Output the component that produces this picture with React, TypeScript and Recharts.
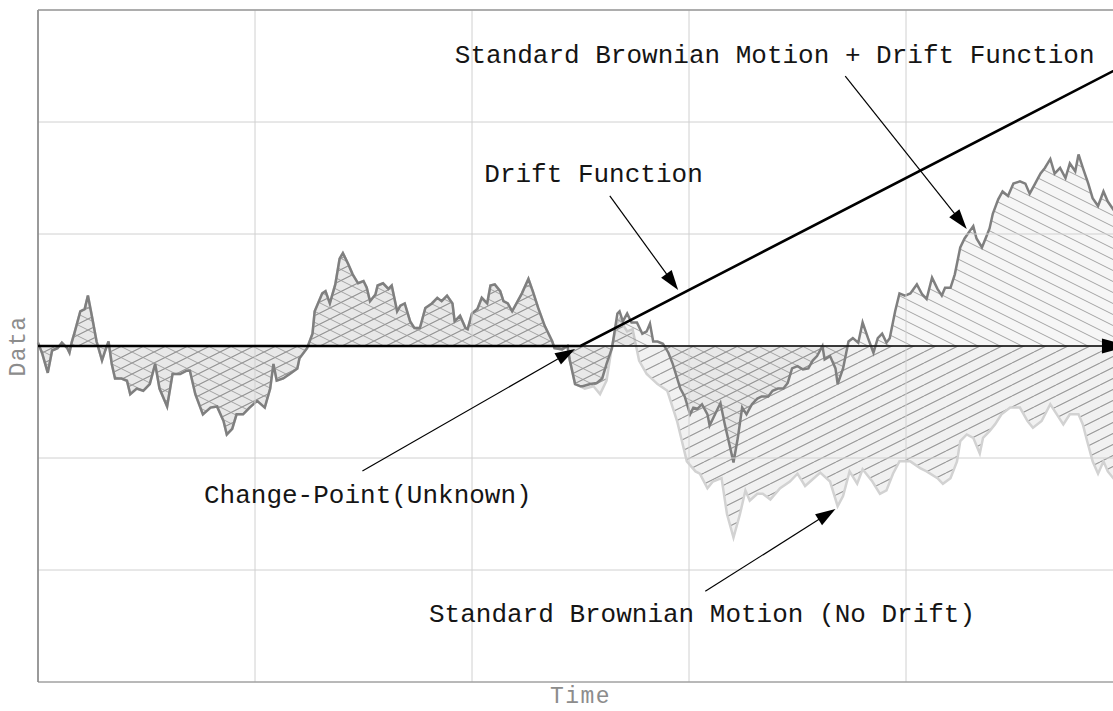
import React from 'react';
import {
  ComposedChart,
  Area,
  Line,
  XAxis,
  YAxis,
  ReferenceLine,
  ReferenceDot,
} from 'recharts';

// ---- data (time in [0,1], change point at 0.5) ----
const sharedTimes = [0,0.004,0.009,0.013,0.018,0.022,0.027,0.029,0.031,0.034,0.039,0.043,0.046,0.050,0.054,0.059,0.062,0.065,0.068,0.071,0.077,0.082,0.085,0.091,0.097,0.103,0.108,0.112,0.119,0.124,0.131,0.137,0.140,0.145,0.152,0.159,0.165,0.171,0.174,0.179,0.183,0.189,0.195,0.202,0.209,0.214,0.217,0.220,0.226,0.232,0.239,0.241,0.248,0.253,0.255,0.262,0.265,0.269,0.274,0.278,0.281,0.286,0.290,0.295,0.300,0.303,0.306,0.311,0.313,0.318,0.323,0.326,0.331,0.334,0.338,0.343,0.347,0.352,0.357,0.363,0.368,0.372,0.377,0.382,0.384,0.389,0.394,0.396,0.400,0.405,0.409,0.414,0.417,0.421,0.426,0.429,0.433,0.437,0.441,0.446,0.452,0.456,0.461,0.467,0.474,0.476,0.483,0.488,0.490,0.495,0.500];
const sharedValues = [0.03,-0.07,-0.24,-0.04,-0.02,0.03,-0.02,-0.06,0.03,0.13,0.31,0.33,0.45,0.25,0.04,-0.13,-0.04,0.04,-0.16,-0.29,-0.29,-0.31,-0.43,-0.38,-0.40,-0.34,-0.16,-0.38,-0.54,-0.25,-0.25,-0.22,-0.22,-0.43,-0.61,-0.55,-0.54,-0.67,-0.79,-0.74,-0.61,-0.61,-0.55,-0.49,-0.55,-0.38,-0.16,-0.31,-0.29,-0.25,-0.20,-0.11,-0.02,0.11,0.31,0.47,0.49,0.38,0.55,0.78,0.83,0.73,0.64,0.56,0.58,0.52,0.40,0.46,0.54,0.56,0.51,0.54,0.31,0.36,0.38,0.22,0.16,0.16,0.34,0.38,0.43,0.40,0.45,0.38,0.22,0.27,0.16,0.15,0.29,0.33,0.43,0.38,0.54,0.55,0.49,0.40,0.38,0.31,0.38,0.47,0.60,0.49,0.34,0.18,0.04,-0.02,-0.03,0.00,-0.12,-0.34,-0.36];

const driftedTimes = [0.502,0.509,0.515,0.520,0.524,0.529,0.534,0.536,0.539,0.543,0.547,0.552,0.557,0.561,0.564,0.567,0.571,0.576,0.581,0.585,0.592,0.596,0.601,0.604,0.608,0.612,0.617,0.619,0.624,0.629,0.633,0.638,0.641,0.645,0.649,0.653,0.658,0.663,0.667,0.673,0.677,0.682,0.687,0.691,0.695,0.700,0.705,0.710,0.714,0.718,0.723,0.725,0.730,0.735,0.737,0.742,0.747,0.751,0.756,0.760,0.765,0.770,0.774,0.778,0.782,0.785,0.790,0.794,0.799,0.804,0.810,0.815,0.819,0.824,0.829,0.833,0.836,0.841,0.845,0.850,0.854,0.859,0.862,0.865,0.870,0.875,0.877,0.880,0.885,0.889,0.894,0.899,0.905,0.910,0.914,0.919,0.924,0.928,0.933,0.937,0.942,0.947,0.951,0.956,0.959,0.963,0.968,0.972,0.977,0.982,0.986,0.991,1.000];
const driftedValues = [-0.36,-0.34,-0.33,-0.29,-0.16,-0.02,0.29,0.31,0.22,0.29,0.21,0.21,0.11,0.13,0.20,0.04,0.04,0.02,-0.06,-0.16,-0.38,-0.45,-0.61,-0.55,-0.56,-0.52,-0.61,-0.71,-0.61,-0.51,-0.70,-0.91,-1.04,-0.82,-0.55,-0.61,-0.52,-0.47,-0.45,-0.45,-0.40,-0.38,-0.38,-0.33,-0.20,-0.18,-0.21,-0.20,-0.13,-0.09,0.00,-0.12,-0.09,-0.20,-0.34,-0.20,0.04,0.07,0.03,0.21,0.07,-0.06,0.07,0.11,0.03,0.07,0.31,0.47,0.45,0.47,0.55,0.46,0.42,0.61,0.51,0.45,0.52,0.52,0.64,0.88,0.96,1.03,1.07,0.96,0.88,1.00,1.05,1.18,1.31,1.38,1.34,1.45,1.47,1.45,1.36,1.45,1.54,1.59,1.67,1.54,1.59,1.50,1.63,1.56,1.71,1.59,1.45,1.32,1.25,1.38,1.29,1.22,1.30];

const undriftedTimes = [0.504,0.512,0.518,0.524,0.529,0.534,0.536,0.543,0.548,0.554,0.561,0.571,0.580,0.589,0.598,0.606,0.610,0.617,0.622,0.630,0.635,0.641,0.647,0.652,0.656,0.663,0.668,0.675,0.684,0.693,0.700,0.707,0.714,0.721,0.730,0.737,0.742,0.748,0.755,0.760,0.769,0.776,0.782,0.788,0.794,0.804,0.813,0.819,0.829,0.834,0.841,0.847,0.850,0.856,0.862,0.868,0.871,0.877,0.882,0.888,0.896,0.905,0.912,0.917,0.925,0.933,0.939,0.945,0.951,0.959,0.963,0.967,0.972,0.977,0.982,0.986,0.991,1.000];
const undriftedValues = [-0.38,-0.36,-0.43,-0.31,0.00,0.21,0.24,0.13,0.15,-0.13,-0.25,-0.34,-0.40,-0.67,-1.03,-1.12,-1.14,-1.27,-1.21,-1.18,-1.50,-1.71,-1.50,-1.29,-1.38,-1.32,-1.32,-1.37,-1.27,-1.21,-1.14,-1.25,-1.19,-1.13,-1.21,-1.43,-1.34,-1.12,-1.23,-1.10,-1.21,-1.32,-1.29,-1.14,-1.03,-1.03,-1.09,-1.12,-1.18,-1.23,-1.18,-1.03,-0.85,-0.79,-0.82,-0.96,-0.82,-0.76,-0.70,-0.61,-0.55,-0.55,-0.67,-0.73,-0.67,-0.52,-0.61,-0.70,-0.61,-0.61,-0.70,-0.85,-1.03,-1.14,-1.03,-1.12,-1.18,-1.12];

const driftFnTimes = [0, 0.5, 1];
const driftFnValues = [0, 0, 2.5];

const timeTicks = [0, 0.2, 0.4, 0.6, 0.8, 1];
const dataTicks = [-3, -2, -1, 0, 1, 2, 3];

const annotationTexts = [
  'Standard Brownian Motion + Drift Function',
  'Drift Function',
  'Change-Point(Unknown)',
  'Standard Brownian Motion (No Drift)',
];
const annotationTextT = [0.679, 0.512, 0.304, 0.612];
const annotationTextV = [2.527, 1.464, -1.402, -2.464];
const arrowFromT = [0.744, 0.527, 0.299, 0.615];
const arrowFromV = [2.41, 1.34, -1.116, -2.19];
const arrowToT = [0.856, 0.59, 0.495, 0.735];
const arrowToV = [1.045, 0.5, -0.027, -1.455];

const axisArrowT = [0, 1.0055];
const axisArrowV = [0, 0];

// ---- build table ----
const rowMap = new Map<number, any>();
const put = (t: number, key: string, v: number) => {
  const r = rowMap.get(t) ?? { t };
  r[key] = v;
  rowMap.set(t, r);
};
sharedTimes.forEach((t, i) => {
  put(t, 'withDrift', sharedValues[i]);
  put(t, 'noDrift', sharedValues[i]);
});
driftedTimes.forEach((t, i) => put(t, 'withDrift', driftedValues[i]));
undriftedTimes.forEach((t, i) => put(t, 'noDrift', undriftedValues[i]));
driftFnTimes.forEach((t, i) => put(t, 'drift', driftFnValues[i]));
const chartData = Array.from(rowMap.values()).sort((a, b) => a.t - b.t);

const FONT = "'Liberation Mono', 'DejaVu Sans Mono', monospace";

const makeArrow = (headLen: number, headHalf: number, width: number) => (props: any) => {
  const { x1, y1, x2, y2 } = props;
  const dx = x2 - x1;
  const dy = y2 - y1;
  const L = Math.hypot(dx, dy) || 1;
  const ux = dx / L;
  const uy = dy / L;
  const bx = x2 - ux * headLen;
  const by = y2 - uy * headLen;
  const px = -uy;
  const py = ux;
  return (
    <g>
      <line x1={x1} y1={y1} x2={bx + ux * 2} y2={by + uy * 2} stroke="#000" strokeWidth={width} />
      <polygon
        points={`${x2},${y2} ${bx + px * headHalf},${by + py * headHalf} ${bx - px * headHalf},${by - py * headHalf}`}
        fill="#000"
      />
    </g>
  );
};

const annotationArrow = makeArrow(20, 6.5, 1.2);
const axisArrow = makeArrow(27, 7.5, 1.3);

export default function App() {
  return (
    <div
      style={{
        position: 'fixed',
        left: 0,
        top: 0,
        width: 1113,
        height: 711,
        overflow: 'hidden',
        background: '#fff',
      }}
    >
      <svg width={0} height={0} style={{ position: 'absolute' }}>
        <defs>
          <pattern id="hatchUp" patternUnits="userSpaceOnUse" width={22} height={11}>
            <rect width={22} height={11} fill="#f1f1f1" />
            <line x1={-22} y1={22} x2={22} y2={0} stroke="#9a9a9a" strokeWidth={0.9} />
            <line x1={0} y1={11} x2={22} y2={0} stroke="#9a9a9a" strokeWidth={0.9} />
            <line x1={0} y1={22} x2={44} y2={0} stroke="#9a9a9a" strokeWidth={0.9} />
            <line x1={-22} y1={11} x2={22} y2={-11} stroke="#9a9a9a" strokeWidth={0.9} />
          </pattern>
          <pattern id="hatchDown" patternUnits="userSpaceOnUse" width={22} height={11}>
            <rect width={22} height={11} fill="#000" fillOpacity={0.035} />
            <line x1={0} y1={0} x2={22} y2={11} stroke="#9a9a9a" strokeWidth={0.9} />
            <line x1={-22} y1={0} x2={22} y2={22} stroke="#9a9a9a" strokeWidth={0.9} />
            <line x1={0} y1={-11} x2={44} y2={11} stroke="#9a9a9a" strokeWidth={0.9} />
          </pattern>
        </defs>
      </svg>
      <ComposedChart
        width={1130}
        height={711}
        data={chartData}
        margin={{ top: 10, right: 7, bottom: 0, left: 0 }}
        style={{ fontFamily: FONT }}
      >
        <XAxis
          dataKey="t"
          type="number"
          domain={[0, 1]}
          ticks={timeTicks}
          tick={false}
          tickLine={false}
          axisLine={false}
          height={29}
          label={{
            content: (p: any) => {
              const vb = p.viewBox || {};
              return (
                <text
                  x={vb.x + vb.width / 2}
                  y={vb.y + 21}
                  textAnchor="middle"
                  fontFamily={FONT}
                  fontSize={23}
                  letterSpacing={1.5}
                  fill="#8c8c8c"
                >
                  Time
                </text>
              );
            },
          }}
        />
        <YAxis
          type="number"
          domain={[-3, 3]}
          ticks={dataTicks}
          tick={false}
          tickLine={false}
          axisLine={false}
          width={38}
          label={{
            content: (p: any) => {
              const vb = p.viewBox || {};
              const cx = vb.x + 25;
              const cy = vb.y + vb.height / 2;
              return (
                <text
                  x={cx}
                  y={cy}
                  transform={`rotate(-90 ${cx} ${cy})`}
                  textAnchor="middle"
                  fontFamily={FONT}
                  fontSize={23}
                  letterSpacing={1.5}
                  fill="#8c8c8c"
                >
                  Data
                </text>
              );
            },
          }}
        />
        {timeTicks.map((t) => (
          <ReferenceLine key={`gx-${t}`} x={t} stroke="#d0d0d0" strokeWidth={1} ifOverflow="visible" />
        ))}
        {dataTicks.map((v) => (
          <ReferenceLine key={`gy-${v}`} y={v} stroke="#d0d0d0" strokeWidth={1} ifOverflow="visible" />
        ))}
        <ReferenceLine x={0} stroke="#808080" strokeWidth={1.5} ifOverflow="visible" />
        <ReferenceLine y={3} stroke="#9a9a9a" strokeWidth={1.5} ifOverflow="visible" />
        <ReferenceLine y={-3} stroke="#8a8a8a" strokeWidth={1.2} ifOverflow="visible" />

        <Area
          dataKey="noDrift"
          type="linear"
          baseValue={0}
          connectNulls
          stroke="#d2d2d2"
          strokeWidth={2.5}
          fill="url(#hatchUp)"
          fillOpacity={1}
          dot={false}
          activeDot={false}
          isAnimationActive={false}
        />
        <Area
          dataKey="withDrift"
          type="linear"
          baseValue={0}
          connectNulls
          stroke="#7f7f7f"
          strokeWidth={2.5}
          fill="url(#hatchDown)"
          fillOpacity={1}
          dot={false}
          activeDot={false}
          isAnimationActive={false}
        />
        <ReferenceLine
          segment={[
            { x: axisArrowT[0], y: axisArrowV[0] },
            { x: axisArrowT[1], y: axisArrowV[1] },
          ]}
          ifOverflow="visible"
          shape={axisArrow}
        />
        <Line
          dataKey="drift"
          type="linear"
          connectNulls
          stroke="#000"
          strokeWidth={2.6}
          dot={false}
          activeDot={false}
          isAnimationActive={false}
        />
        {annotationTexts.map((txt, i) => (
          <ReferenceLine
            key={`arr-${i}`}
            segment={[
              { x: arrowFromT[i], y: arrowFromV[i] },
              { x: arrowToT[i], y: arrowToV[i] },
            ]}
            ifOverflow="visible"
            shape={annotationArrow}
          />
        ))}
        {annotationTexts.map((txt, i) => (
          <ReferenceDot
            key={`txt-${i}`}
            x={annotationTextT[i]}
            y={annotationTextV[i]}
            r={0}
            ifOverflow="visible"
            shape={(p: any) => (
              <text
                x={p.cx}
                y={p.cy}
                textAnchor="middle"
                fontFamily={FONT}
                fontSize={26}
                fill="#151515"
              >
                {txt}
              </text>
            )}
          />
        ))}
      </ComposedChart>
    </div>
  );
}
